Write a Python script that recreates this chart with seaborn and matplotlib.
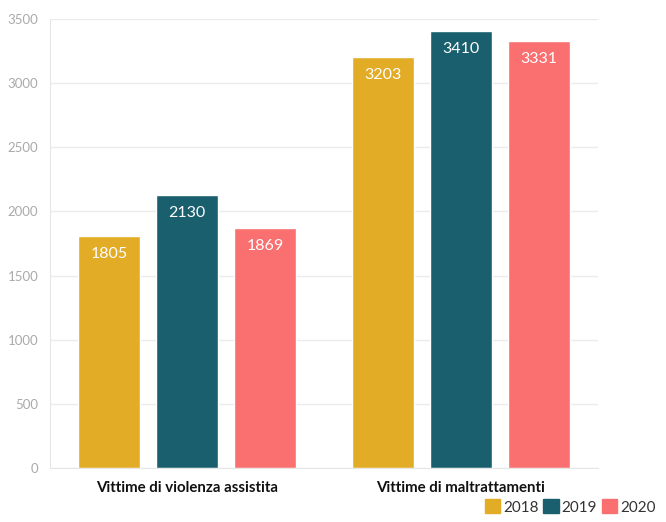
import pandas as pd
import matplotlib
matplotlib.use("Agg")
import matplotlib.pyplot as plt
import seaborn as sns

# data
categories = ["Vittime di violenza assistita", "Vittime di maltrattamenti"]
years = ["2018", "2019", "2020"]
values_2018 = [1805, 3203]
values_2019 = [2130, 3410]
values_2020 = [1869, 3331]
colors = ["#E3AC26", "#1A5F6E", "#FA6F6F"]

rows = []
for year, vals in zip(years, [values_2018, values_2019, values_2020]):
    for cat, v in zip(categories, vals):
        rows.append({"categoria": cat, "anno": year, "valore": v})
df = pd.DataFrame(rows)

sns.set_style("white")
plt.rcParams["font.family"] = ["Lato", "DejaVu Sans"]

fig = plt.figure(figsize=(6.66, 5.22), dpi=100)
ax = fig.add_axes([50 / 666, 1 - 468 / 522, 548 / 666, 449 / 522])

sns.barplot(data=df, x="categoria", y="valore", hue="anno", palette=colors,
            width=0.855, gap=0.2, saturation=1, ax=ax, legend=False)

for cont in ax.containers:
    ax.bar_label(cont, padding=-18, color="white", fontsize=11.5)

ax.set_ylim(0, 3500)
ax.set_xlim(-0.5, 1.5)
ax.set_yticks(range(0, 3501, 500))
ax.grid(axis="y", color="#ebebeb", linewidth=1)
ax.set_axisbelow(True)
ax.set_xlabel("")
ax.set_ylabel("")
for s in ["top", "right"]:
    ax.spines[s].set_visible(False)
for s in ["left", "bottom"]:
    ax.spines[s].set_color("#e6e6e6")
ax.tick_params(axis="y", colors="#aaaaaa", labelsize=9.5, length=5, width=1)
ax.tick_params(axis="y", color="#e6e6e6")
ax.tick_params(axis="x", length=6, color="#cccccc", labelsize=10.8, labelcolor="#111111")
for lab in ax.get_xticklabels():
    lab.set_fontweight("bold")

handles = [plt.Rectangle((0, 0), 1, 1, color=c) for c in colors]
fig.legend(handles, years, loc="lower right", bbox_to_anchor=(1.005, -0.012), ncol=3,
           frameon=False, fontsize=11, handlelength=1.0, handleheight=1.0,
           handletextpad=0.2, columnspacing=0.3, labelcolor="#333333")

fig.savefig("out.png", dpi=100)
